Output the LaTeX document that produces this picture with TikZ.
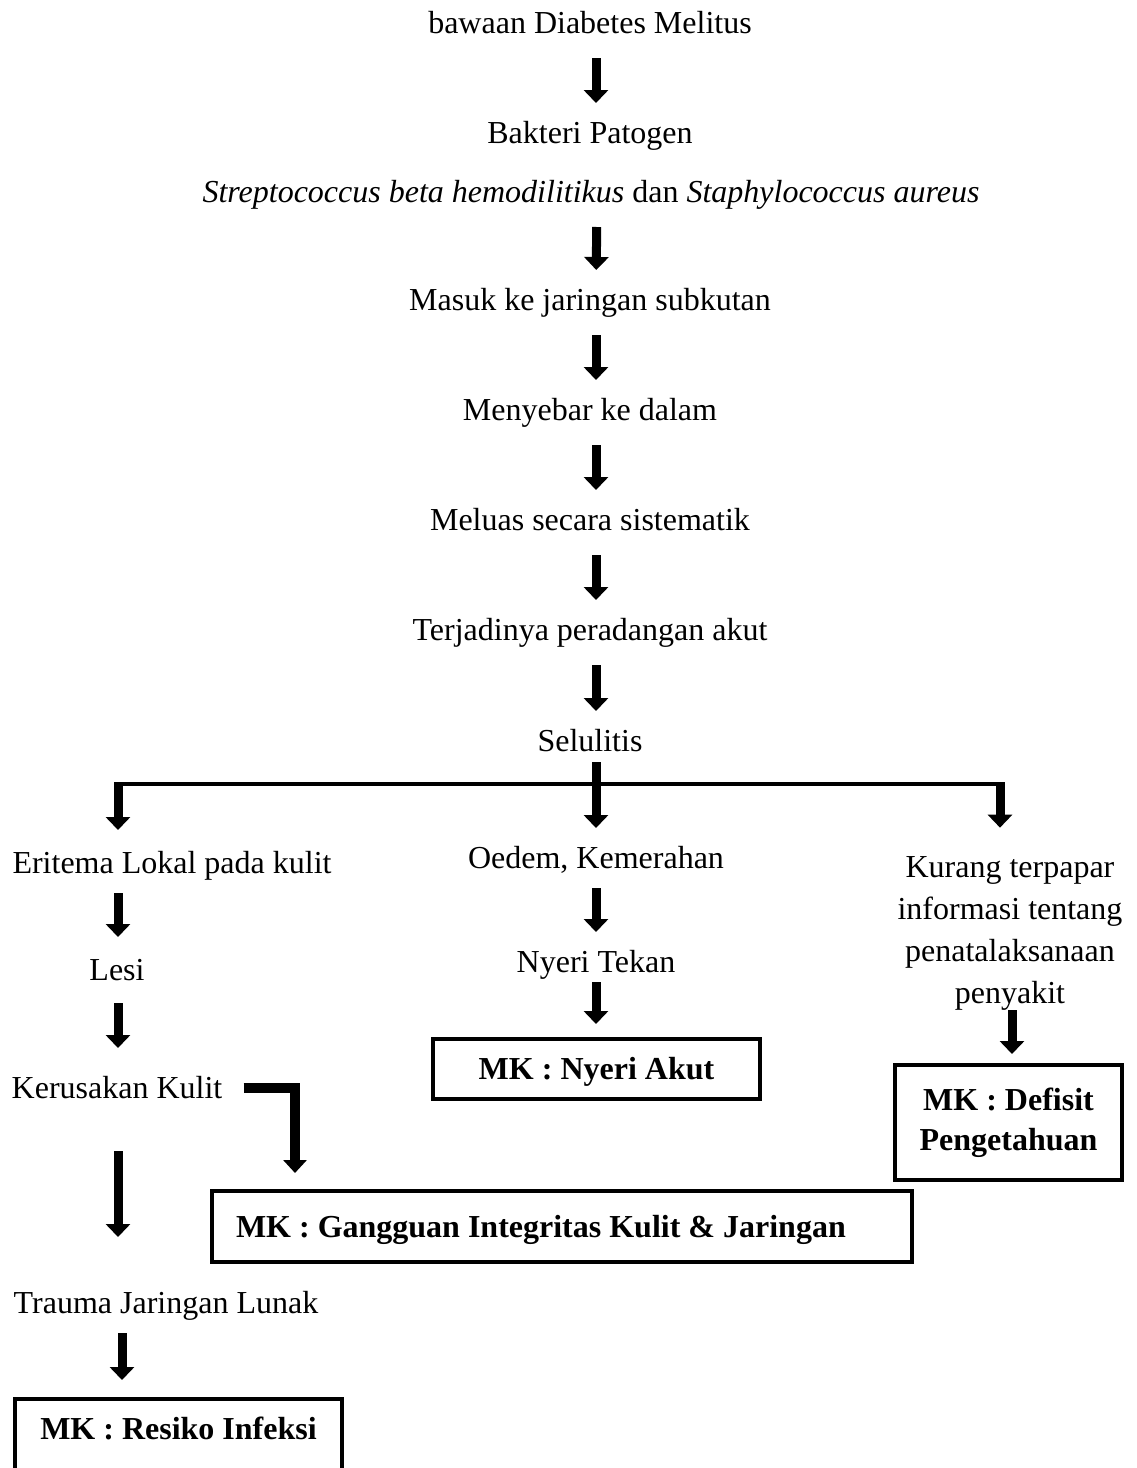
\documentclass[tikz,border=0pt]{standalone}
\usepackage{fontspec}
\setmainfont{Liberation Serif}
\usetikzlibrary{arrows.meta}
\begin{document}
\begin{tikzpicture}[x=0.5pt,y=-0.5pt,
  font=\fontsize{16pt}{21pt}\selectfont,
  txt/.style={inner sep=0pt,text height=10.6pt,text depth=0pt},
  arr/.style={line width=4.5pt,-{Triangle[width=12pt,length=6.5pt]}},
  thinline/.style={line width=2pt},
  box/.style={draw,line width=2pt,inner sep=0pt,font=\fontsize{16pt}{20pt}\selectfont\bfseries},
]
\clip (0,0) rectangle (1136,1468);
\fill[white] (0,0) rectangle (1136,1468);

% main column
\node[txt] (t1) at (590,23) {bawaan Diabetes Melitus};
\node[txt] (t2) at (590,133) {Bakteri Patogen};
\node[txt] (t3) at (591,192) {\textit{Streptococcus beta hemodilitikus} dan \textit{Staphylococcus aureus}};
\node[txt] (t4) at (590,300) {Masuk ke jaringan subkutan};
\node[txt] (t5) at (590,410) {Menyebar ke dalam};
\node[txt] (t6) at (590,520) {Meluas secara sistematik};
\node[txt] (t7) at (590,630) {Terjadinya peradangan akut};
\node[txt] (t8) at (590,741) {Selulitis};

\draw[arr,shorten <=17.5pt,shorten >=15pt] ([xshift=3pt]t1.center) -- ([xshift=3pt]t2.center);
\draw[arr,shorten <=17.5pt,shorten >=15pt] ([xshift=3pt]t3.center) -- ([xshift=3pt]t4.center);
\draw[arr,shorten <=17.5pt,shorten >=15pt] ([xshift=3pt]t4.center) -- ([xshift=3pt]t5.center);
\draw[arr,shorten <=17.5pt,shorten >=15pt] ([xshift=3pt]t5.center) -- ([xshift=3pt]t6.center);
\draw[arr,shorten <=17.5pt,shorten >=15pt] ([xshift=3pt]t6.center) -- ([xshift=3pt]t7.center);
\draw[arr,shorten <=17.5pt,shorten >=15pt] ([xshift=3pt]t7.center) -- ([xshift=3pt]t8.center);

% branch
\coordinate (L) at (118,784);
\coordinate (R) at (1000,784);

% left column
\node[txt] (e1) at (172,863) {Eritema Lokal pada kulit};
\node[txt] (e2) at (117,970) {Lesi};
\node[txt] (e3) at (117,1088) {Kerusakan Kulit};
\node[txt] (e4) at (166,1303) {Trauma Jaringan Lunak};
\node[box,anchor=north,minimum width=163.5pt,text height=10.6pt,text depth=12pt,inner ysep=9.75pt] (RI) at (178.5,1397) {MK : Resiko Infeksi};

% middle column
\node[txt] (m1) at (596,858) {Oedem, Kemerahan};
\node[txt] (m2) at (596,962) {Nyeri Tekan};
\node[box,minimum width=163.5pt,minimum height=30pt,text height=10.6pt,text depth=0pt,yshift=-1pt] (NA) at (596.5,1067) {MK : Nyeri Akut};

% right column
\node[inner sep=0pt,align=center] (r) at (1010,933) {Kurang terpapar\\informasi tentang\\penatalaksanaan\\penyakit};
\node[box,align=center,minimum width=113.5pt,minimum height=57.5pt] (D) at (1008.5,1122.5) {MK : Defisit\\Pengetahuan};

% wide box
\node[box,text width=326pt,align=flush left,inner xsep=12pt,minimum height=35.5pt,text height=10.6pt,text depth=0pt] (G) at (562,1226.5) {MK : Gangguan Integritas Kulit \& Jaringan};

% branch connectors
\draw[thinline] (L) -- (R);
\draw[arr,shorten <=10.5pt,shorten >=15pt] ([xshift=3pt]t8.center) -- (m1.center);
\draw[arr,shorten >=16.5pt] ([yshift=1pt]L) -- (L |- e1.center);
\draw[arr,shorten >=14pt] ([yshift=1pt]R) -- (R |- r.north);

% left arrows
\draw[arr,shorten <=15pt,shorten >=16.5pt] (L |- e1.center) -- (L |- e2.center);
\draw[arr,shorten <=16.5pt,shorten >=20pt] (L |- e2.center) -- (L |- e3.center);
\draw[arr,shorten <=31.5pt,shorten >=33pt] (L |- e3.center) -- (L |- e4.center);
\draw[arr,shorten <=15pt,shorten >=8.5pt] ([xshift=2pt]L |- e4.center) -- ([xshift=2pt]L |- RI.north);

% elbow
\coordinate (elb) at (295,1088);
\draw[line width=5pt,-{Triangle[width=11.5pt,length=6.5pt]},shorten >=8pt] ([xshift=10.5pt]e3.east) -- (elb) -- (elb |- G.north);

% middle arrows
\draw[arr,shorten <=15pt,shorten >=15pt] (m1.center) -- (m2.center);
\draw[arr,shorten <=10pt,shorten >=6.5pt] (m2.center) -- (m2.center |- NA.north);

% right arrow
\draw[arr,shorten >=4.5pt] ([xshift=1pt]r.south) -- ([xshift=1pt]r.south |- D.north);
\end{tikzpicture}
\end{document}
